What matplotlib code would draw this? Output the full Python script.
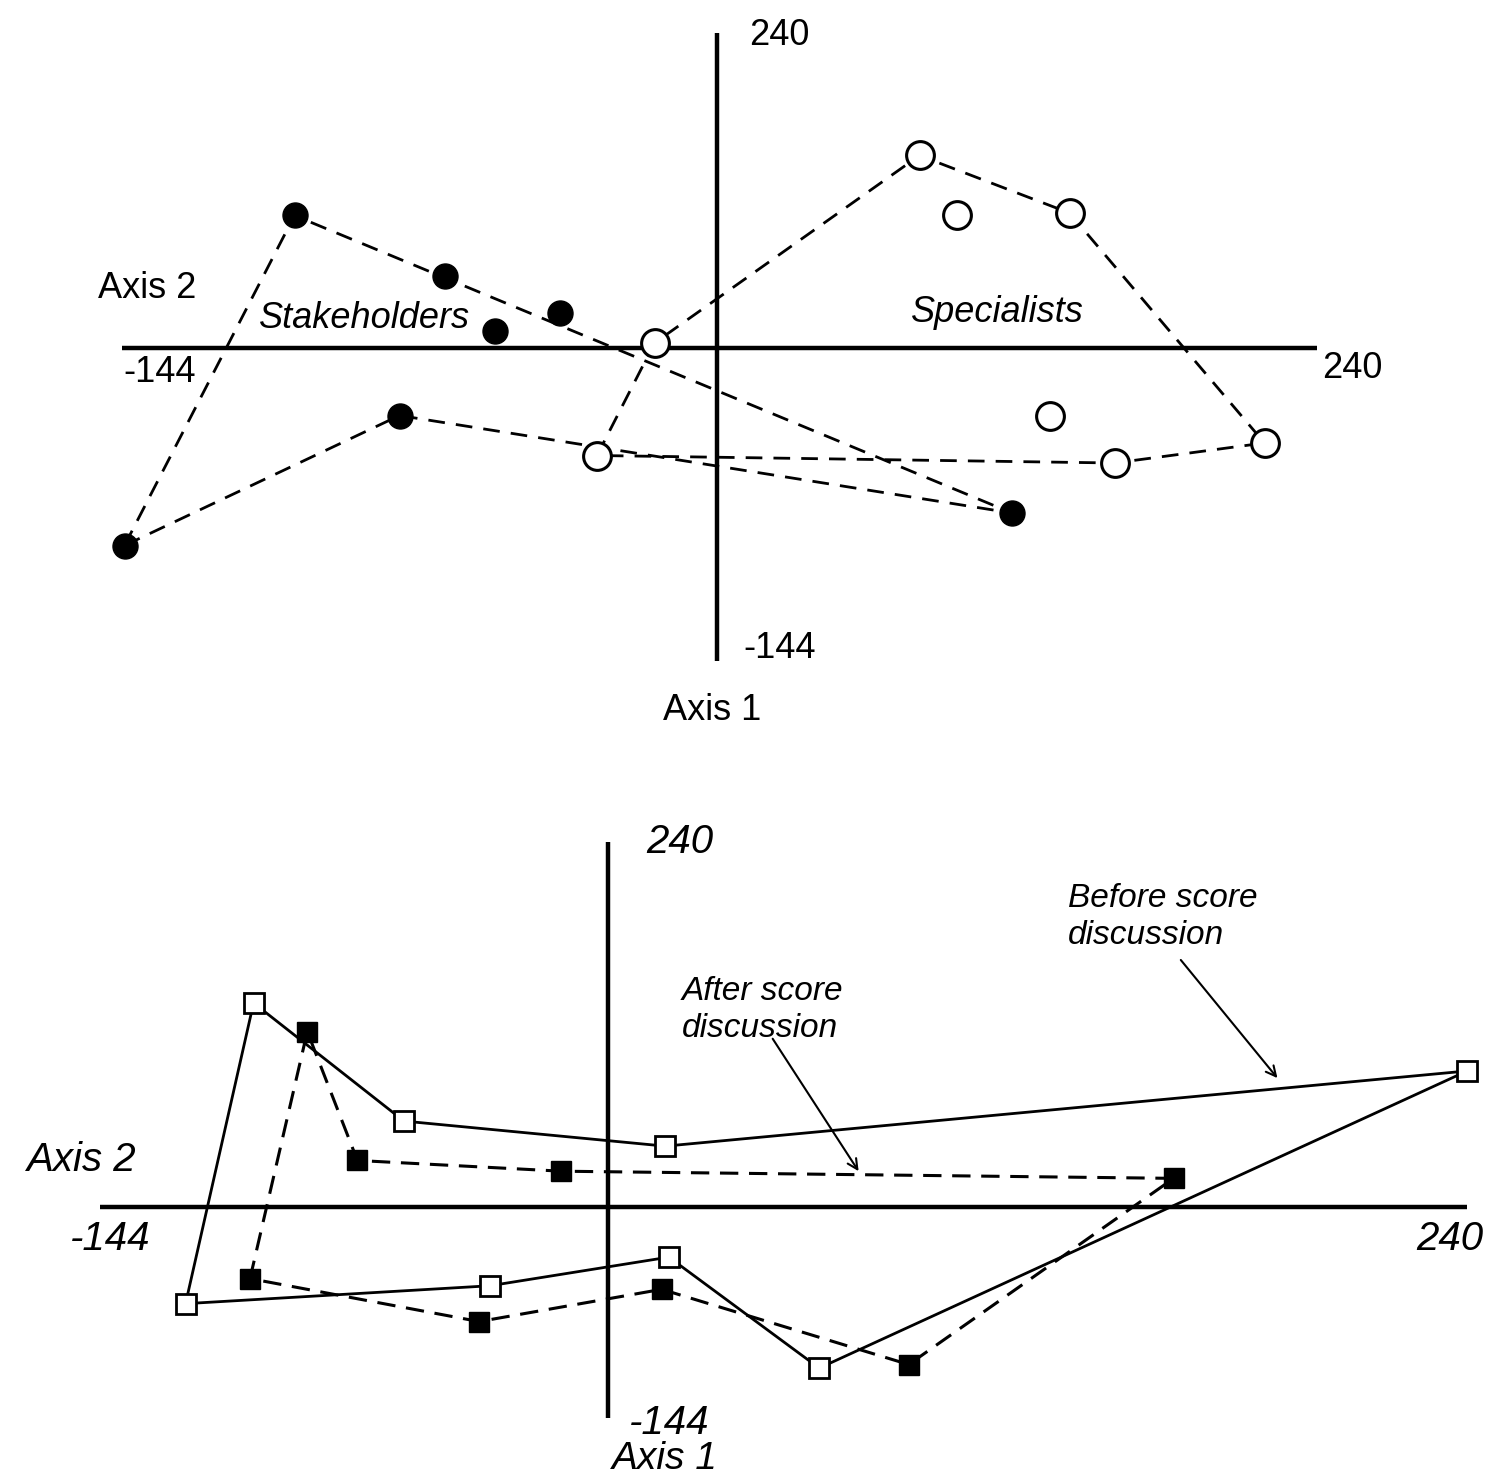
import matplotlib
matplotlib.use("Agg")
import matplotlib.pyplot as plt

plt.rcParams['font.family'] = ['Liberation Sans', 'DejaVu Sans']

# top panel: scores on axis 1 (x) and axis 2 (y)
stake_x = [-169, -109, -63, -89, -127, -237, 118]
stake_y = [53, 29, 14, 7, -27, -79, -66]
stake_hull = [5, 0, 6, 4, 5]

spec_x = [81, 96, 141, -25, 133, -48, 159, 219]
spec_y = [77, 53, 54, 2, -27, -43, -46, -38]
spec_hull = [5, 3, 0, 2, 7, 6, 5]

# bottom panel: group positions before / after the score discussion
before_x = [-118, -99, -57, 16, 240, 59, 17, -33]
before_y = [-27, 57, 24, 17, 38, -45, -14, -22]
after_x = [-100, -84, -70, -13, 158, 84, 15, -36]
after_y = [-20, 49, 13, 10, 8, -44, -23, -32]

W, H = 1489, 1478
fig = plt.figure(figsize=(W / 100, H / 100), dpi=100)

# ---------- top panel ----------
s1 = 2.5  # px per unit
ax1 = fig.add_axes([0, 1 - 740 / H, 1, 740 / H])
ax1.set_xlim(-717 / s1, (W - 717) / s1)
ax1.set_ylim(-(740 - 348) / s1, 348 / s1)
ax1.axis('off')

ax1.plot([-238, 240], [0, 0], color='black', lw=3.2, solid_capstyle='butt')
ax1.plot([0, 0], [-125, 126], color='black', lw=3.2, solid_capstyle='butt')

ax1.plot([stake_x[i] for i in stake_hull], [stake_y[i] for i in stake_hull],
         color='black', lw=2, ls=(0, (6, 4)))
ax1.plot([spec_x[i] for i in spec_hull], [spec_y[i] for i in spec_hull],
         color='black', lw=2, ls=(0, (6, 4)))
ax1.plot(stake_x, stake_y, 'o', ms=18, color='black', zorder=5)
ax1.plot(spec_x, spec_y, 'o', ms=20, mfc='white', mec='black', mew=2.2, zorder=5)

fs = 26
ax1.text(25, 125, '240', fontsize=fs, ha='center', va='center')
ax1.text(25, -120, '-144', fontsize=fs, ha='center', va='center')
ax1.text(254, -8, '240', fontsize=fs, ha='center', va='center')
ax1.text(-223, -10, '-144', fontsize=fs, ha='center', va='center')
ax1.text(-228, 24, 'Axis 2', fontsize=fs, ha='center', va='center')
ax1.text(-2, -145, 'Axis 1', fontsize=fs, ha='center', va='center')
ax1.text(-141, 12, 'Stakeholders', fontsize=fs, ha='center', va='center', style='italic')
ax1.text(112, 14, 'Specialists', fontsize=fs, ha='center', va='center', style='italic')

# ---------- bottom panel ----------
s2 = 3.58
top_px = 740
ax2 = fig.add_axes([0, 0, 1, (H - top_px) / H])
ax2.set_xlim(-608 / s2, (W - 608) / s2)
ax2.set_ylim(-(H - 1207) / s2, (1207 - top_px) / s2)
ax2.axis('off')

ax2.plot([-142, 240], [0, 0], color='black', lw=3.2, solid_capstyle='butt')
ax2.plot([0, 0], [-59, 102], color='black', lw=3.2, solid_capstyle='butt')

ax2.plot(before_x + before_x[:1], before_y + before_y[:1], color='black', lw=2)
ax2.plot(after_x + after_x[:1], after_y + after_y[:1], color='black', lw=2.2,
         ls=(0, (6, 3.5)))
ax2.plot(before_x, before_y, 's', ms=15, mfc='white', mec='black', mew=2, zorder=5)
ax2.plot(after_x, after_y, 's', ms=15, color='black', zorder=5)

fs2 = 29
ax2.text(20, 102, '240', fontsize=fs2, ha='center', va='center', style='italic')
ax2.text(17, -60.3, '-144', fontsize=fs2, ha='center', va='center', style='italic')
ax2.text(16, -70.5, 'Axis 1', fontsize=28, ha='center', va='center', style='italic')
ax2.text(235, -9, '240', fontsize=fs2, ha='center', va='center', style='italic')
ax2.text(-139, -9, '-144', fontsize=fs2, ha='center', va='center', style='italic')
ax2.text(-147, 13, 'Axis 2', fontsize=fs2, ha='center', va='center', style='italic')

arrow = dict(arrowstyle='->', color='black', lw=1.5, shrinkA=0, shrinkB=0,
             mutation_scale=18)
ax2.text(20.5, 55, 'After score\ndiscussion', fontsize=24, style='italic',
         ha='left', va='center', linespacing=1.25)
ax2.annotate('', xy=(70, 10), xytext=(46, 47), arrowprops=arrow)

ax2.text(128.5, 81, 'Before score\ndiscussion', fontsize=24, style='italic',
         ha='left', va='center', linespacing=1.25)
ax2.annotate('', xy=(187, 36), xytext=(160, 69), arrowprops=arrow)

fig.savefig('out.png', dpi=100)
